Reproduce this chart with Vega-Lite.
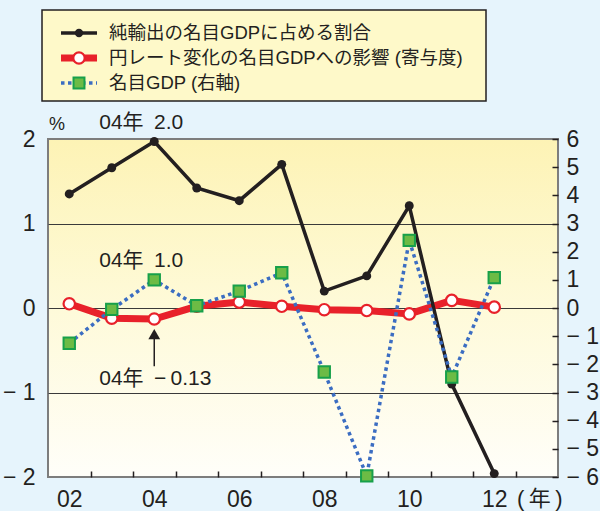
{
  "$schema": "https://vega.github.io/schema/vega-lite/v6.json",
  "background": "#e6f4fc",
  "padding": {"left": 1, "top": 9, "right": 0, "bottom": 0},
  "bounds": "flush",
  "spacing": 38,
  "config": {
    "font": "Liberation Sans, Noto Sans CJK JP",
    "view": {"stroke": null},
    "axis": {"labelFont": "Liberation Sans, Noto Sans CJK JP", "labelColor": "#231f20", "labelFontSize": 23, "titleFont": "Liberation Sans, Noto Sans CJK JP"}
  },
  "datasets": {
    "net": [
      {"year": 2002, "value": 1.35}, {"year": 2003, "value": 1.66}, {"year": 2004, "value": 1.97},
      {"year": 2005, "value": 1.42}, {"year": 2006, "value": 1.27}, {"year": 2007, "value": 1.70},
      {"year": 2008, "value": 0.20}, {"year": 2009, "value": 0.38}, {"year": 2010, "value": 1.21},
      {"year": 2011, "value": -0.90}, {"year": 2012, "value": -1.96}
    ],
    "yen": [
      {"year": 2002, "value": 0.05}, {"year": 2003, "value": -0.12}, {"year": 2004, "value": -0.13},
      {"year": 2005, "value": 0.02}, {"year": 2006, "value": 0.07}, {"year": 2007, "value": 0.02},
      {"year": 2008, "value": -0.02}, {"year": 2009, "value": -0.03}, {"year": 2010, "value": -0.07},
      {"year": 2011, "value": 0.09}, {"year": 2012, "value": 0.01}
    ],
    "gdp": [
      {"year": 2002, "value": -1.25}, {"year": 2003, "value": -0.05}, {"year": 2004, "value": 1.0},
      {"year": 2005, "value": 0.08}, {"year": 2006, "value": 0.6}, {"year": 2007, "value": 1.25},
      {"year": 2008, "value": -2.27}, {"year": 2009, "value": -5.96}, {"year": 2010, "value": 2.4},
      {"year": 2011, "value": -2.45}, {"year": 2012, "value": 1.08}
    ],
    "legend": [
      {"key": "net", "label": "純輸出の名目GDPに占める割合"},
      {"key": "yen", "label": "円レート変化の名目GDPへの影響 (寄与度)"},
      {"key": "gdp", "label": "名目GDP (右軸)"}
    ]
  },
  "vconcat": [
    {
      "width": 444,
      "height": 91,
      "data": {"name": "legend"},
      "layer": [
        {
          "transform": [{"filter": "datum.key == 'net'"}],
          "mark": {"type": "rect", "fill": "#fef9c9", "stroke": "#231f20", "strokeWidth": 1.5},
          "encoding": {
            "x": {"datum": -1.35, "type": "quantitative", "scale": {"domain": [0, 100], "nice": false, "zero": false}, "axis": null},
            "x2": {"datum": 98.65}
          }
        },
        {
          "transform": [{"filter": "datum.key == 'net'"}],
          "mark": {"type": "rule", "color": "#231f20", "strokeWidth": 3.5},
          "encoding": {
            "x": {"datum": 2.93, "type": "quantitative"},
            "x2": {"datum": 11.04},
            "y": {"field": "key", "type": "nominal", "scale": {"type": "point", "domain": ["net", "yen", "gdp"], "range": [23, 73], "padding": 0}, "axis": null}
          }
        },
        {
          "transform": [{"filter": "datum.key == 'yen'"}],
          "mark": {"type": "rule", "color": "#e8212a", "strokeWidth": 7},
          "encoding": {
            "x": {"datum": 2.93, "type": "quantitative"},
            "x2": {"datum": 11.04},
            "y": {"field": "key", "type": "nominal"}
          }
        },
        {
          "transform": [{"filter": "datum.key == 'gdp'"}],
          "mark": {"type": "rule", "color": "#3b6dc2", "strokeWidth": 3.5, "strokeDash": [3.5, 3.5]},
          "encoding": {
            "x": {"datum": 2.93, "type": "quantitative"},
            "x2": {"datum": 11.04},
            "y": {"field": "key", "type": "nominal"}
          }
        },
        {
          "transform": [{"filter": "datum.key == 'net'"}],
          "mark": {"type": "point", "shape": "circle", "filled": true, "color": "#231f20", "size": 70, "opacity": 1},
          "encoding": {
            "x": {"datum": 6.98, "type": "quantitative"},
            "y": {"field": "key", "type": "nominal"}
          }
        },
        {
          "transform": [{"filter": "datum.key == 'yen'"}],
          "mark": {"type": "point", "shape": "circle", "filled": true, "fill": "white", "stroke": "#e8212a", "strokeWidth": 2.2, "size": 130, "opacity": 1},
          "encoding": {
            "x": {"datum": 6.98, "type": "quantitative"},
            "y": {"field": "key", "type": "nominal"}
          }
        },
        {
          "transform": [{"filter": "datum.key == 'gdp'"}],
          "mark": {"type": "point", "shape": "square", "filled": true, "fill": "#6cbb45", "stroke": "#17a04a", "strokeWidth": 2, "size": 120, "opacity": 1},
          "encoding": {
            "x": {"datum": 6.98, "type": "quantitative"},
            "y": {"field": "key", "type": "nominal"}
          }
        },
        {
          "mark": {"type": "text", "align": "left", "baseline": "middle", "fontSize": 18.5, "color": "#231f20", "font": "Liberation Sans, Noto Sans CJK JP"},
          "encoding": {
            "x": {"datum": 13.74, "type": "quantitative"},
            "y": {"field": "key", "type": "nominal"},
            "text": {"field": "label"}
          }
        }
      ]
    },
    {
      "width": 510,
      "height": 338,
      "view": {
        "stroke": "#7d7d7d",
        "strokeWidth": 2,
        "fill": {"gradient": "linear", "x1": 0, "y1": 0, "x2": 0, "y2": 1, "stops": [{"offset": 0, "color": "#fdf3b5"}, {"offset": 0.5, "color": "#fefad9"}, {"offset": 1, "color": "#fffef9"}]}
      },
      "resolve": {"scale": {"y": "independent"}},
      "layer": [
        {
          "data": {"name": "yen"},
          "mark": {"type": "line", "color": "#e8212a", "strokeWidth": 7},
          "encoding": {
            "x": {
              "field": "year", "type": "quantitative",
              "scale": {"domain": [2001.5, 2013.5], "nice": false, "zero": false},
              "axis": {
                "orient": "bottom",
                "values": [2002, 2003, 2004, 2005, 2006, 2007, 2008, 2009, 2010, 2011, 2012],
                "labelExpr": "datum.value % 2 == 0 ? slice(toString(datum.value), 2) : ''",
                "tickOffset": 21.25, "labelOffset": -21.25,
                "tickSize": -6, "tickColor": "#231f20", "tickWidth": 1.5,
                "labelPadding": 17, "labelFlush": false, "labelOverlap": false,
                "domain": false, "grid": false,
                "title": "(\u2009年\u2009)", "titleFontSize": 22, "titleFontWeight": "normal", "titleColor": "#231f20",
                "titleAlign": "right", "titleBaseline": "top", "titleX": 514, "titleY": 11
              }
            },
            "y": {
              "field": "value", "type": "quantitative",
              "scale": {"domain": [-2, 2], "nice": false},
              "axis": {
                "orient": "left", "values": [-2, -1, 0, 1, 2],
                "labelExpr": "datum.value < 0 ? '\u2212 ' + abs(datum.value) : '' + datum.value",
                "ticks": false, "domain": false, "labelPadding": 13, "title": null,
                "grid": true, "gridColor": {"condition": {"test": "abs(datum.value) == 2", "value": null}, "value": "#3a3a3a"}, "gridWidth": 1.2
              }
            }
          }
        },
        {
          "data": {"name": "net"},
          "mark": {"type": "line", "color": "#231f20", "strokeWidth": 3.5},
          "encoding": {
            "x": {"field": "year", "type": "quantitative"},
            "y": {"field": "value", "type": "quantitative", "scale": {"domain": [-2, 2], "nice": false}, "axis": null}
          }
        },
        {
          "data": {"name": "gdp"},
          "mark": {"type": "line", "color": "#3b6dc2", "strokeWidth": 3.5, "strokeDash": [3.5, 3.5]},
          "encoding": {
            "x": {"field": "year", "type": "quantitative"},
            "y": {
              "field": "value", "type": "quantitative",
              "scale": {"domain": [-6, 6], "nice": false},
              "axis": {
                "orient": "right", "values": [-6, -5, -4, -3, -2, -1, 0, 1, 2, 3, 4, 5, 6],
                "labelExpr": "datum.value < 0 ? '\u2212 ' + abs(datum.value) : '' + datum.value",
                "tickSize": -6, "tickColor": "#231f20", "tickWidth": 1.5,
                "labelPadding": 14, "labelAlign": "left", "domain": false, "grid": false, "title": null
              }
            }
          }
        },
        {
          "data": {"name": "net"},
          "mark": {"type": "point", "shape": "circle", "filled": true, "color": "#231f20", "size": 80, "opacity": 1},
          "encoding": {
            "x": {"field": "year", "type": "quantitative"},
            "y": {"field": "value", "type": "quantitative", "scale": {"domain": [-2, 2], "nice": false}, "axis": null}
          }
        },
        {
          "data": {"name": "yen"},
          "mark": {"type": "point", "shape": "circle", "filled": true, "fill": "white", "stroke": "#e8212a", "strokeWidth": 2.2, "size": 130, "opacity": 1},
          "encoding": {
            "x": {"field": "year", "type": "quantitative"},
            "y": {"field": "value", "type": "quantitative", "scale": {"domain": [-2, 2], "nice": false}, "axis": null}
          }
        },
        {
          "data": {"name": "gdp"},
          "mark": {"type": "point", "shape": "square", "filled": true, "fill": "#6cbb45", "stroke": "#17a04a", "strokeWidth": 2, "size": 130, "opacity": 1},
          "encoding": {
            "x": {"field": "year", "type": "quantitative"},
            "y": {"field": "value", "type": "quantitative", "scale": {"domain": [-6, 6], "nice": false}, "axis": null}
          }
        },
        {
          "data": {"values": [{"label": "%"}]},
          "mark": {"type": "text", "align": "left", "baseline": "middle", "dx": 1, "dy": -14, "fontSize": 18, "color": "#231f20"},
          "encoding": {
            "x": {"datum": 2001.5, "type": "quantitative"},
            "y": {"datum": 2, "type": "quantitative", "scale": {"domain": [-2, 2], "nice": false}, "axis": null},
            "text": {"field": "label"}
          }
        },
        {
          "data": {"values": [{"label": "04年\u20022.0"}]},
          "mark": {"type": "text", "align": "left", "baseline": "middle", "dx": -55, "dy": -16, "fontSize": 21, "color": "#231f20"},
          "encoding": {
            "x": {"datum": 2004, "type": "quantitative"},
            "y": {"datum": 2, "type": "quantitative", "scale": {"domain": [-2, 2], "nice": false}, "axis": null},
            "text": {"field": "label"}
          }
        },
        {
          "data": {"values": [{"label": "04年\u20021.0"}]},
          "mark": {"type": "text", "align": "left", "baseline": "middle", "dx": -55, "dy": -19, "fontSize": 21, "color": "#231f20"},
          "encoding": {
            "x": {"datum": 2004, "type": "quantitative"},
            "y": {"datum": 1, "type": "quantitative", "scale": {"domain": [-6, 6], "nice": false}, "axis": null},
            "text": {"field": "label"}
          }
        },
        {
          "data": {"values": [{"label": "04年\u2002\u2212\u20090.13"}]},
          "mark": {"type": "text", "align": "left", "baseline": "middle", "dx": -55, "dy": 60, "fontSize": 21, "color": "#231f20"},
          "encoding": {
            "x": {"datum": 2004, "type": "quantitative"},
            "y": {"datum": -0.13, "type": "quantitative", "scale": {"domain": [-2, 2], "nice": false}, "axis": null},
            "text": {"field": "label"}
          }
        },
        {
          "data": {"values": [{"label": "arrow"}]},
          "mark": {"type": "rule", "color": "#231f20", "strokeWidth": 1.5},
          "encoding": {
            "x": {"datum": 2004, "type": "quantitative"},
            "y": {"datum": -0.69, "type": "quantitative", "scale": {"domain": [-2, 2], "nice": false}, "axis": null},
            "y2": {"datum": -0.32}
          }
        },
        {
          "data": {"values": [{"label": "arrow"}]},
          "mark": {"type": "point", "shape": "triangle-up", "filled": true, "color": "#231f20", "size": 140, "opacity": 1},
          "encoding": {
            "x": {"datum": 2004, "type": "quantitative"},
            "y": {"datum": -0.31, "type": "quantitative", "scale": {"domain": [-2, 2], "nice": false}, "axis": null}
          }
        }
      ]
    }
  ]
}
